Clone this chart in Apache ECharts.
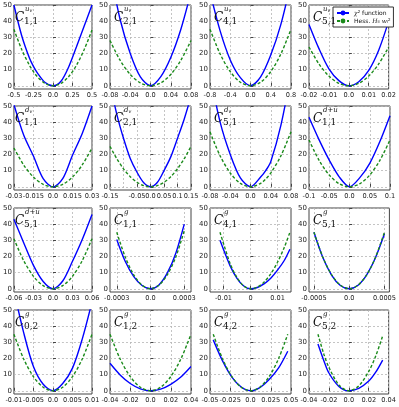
<!DOCTYPE html>
<html><head><meta charset="utf-8">
<script src="https://cdn.jsdelivr.net/npm/echarts@6/dist/echarts.min.js"></script>
<style>html,body{margin:0;padding:0;background:#fff}#c{width:399px;height:407px}</style>
</head><body><div id="c"></div>
<script>
// ---------- data ----------
const yTicks = [0, 10, 20, 30, 40, 50];

const p1_x = [-0.5,-0.4,-0.3,-0.25,-0.2,-0.1,0,0.1,0.2,0.3,0.4,0.5];
const p1_blue = [50,31,17,12,8,2,0,2.6,11.5,24,37,50];
const p1_green = [35,22.4,12.6,8.75,5.6,1.4,0,1.4,5.6,12.6,22.4,34.5];
const p1_ticks = [-0.5,-0.25,0,0.25,0.5];
const p1_labels = ['-0.5','-0.25','0.0','0.25','0.5'];

const p2_x = [-0.08,-0.06,-0.04,-0.02,0,0.02,0.04,0.06,0.08];
const p2_blue = [72,41,20,5.5,0,5.5,17.5,35,58];
const p2_green = [28,15.8,7,1.75,0,1.75,7,15.8,28];
const p2_ticks = [-0.08,-0.04,0,0.04,0.08];
const p2_labels = ['-0.08','-0.04','0.0','0.04','0.08'];

const p3_x = [-0.8,-0.6,-0.4,-0.2,0,0.2,0.4,0.6,0.8];
const p3_blue = [58,34,16,5,0,5.5,19,38,64];
const p3_green = [35,19.7,8.75,2.2,0,2.2,8.75,19.7,35];
const p3_ticks = [-0.8,-0.4,0,0.4,0.8];
const p3_labels = ['-0.8','-0.4','0.0','0.4','0.8'];

const p4_x = [-0.02,-0.015,-0.01,-0.005,0,0.005,0.01,0.015,0.02];
const p4_blue = [38,23,10.5,3.2,0,2.5,9.5,22,40];
const p4_green = [24,13.5,6,1.5,0,1.5,6,13.5,24];
const p4_ticks = [-0.02,-0.01,0,0.01,0.02];
const p4_labels = ['-0.02','-0.01','0.0','0.01','0.02'];

const p5_x = [-0.03,-0.0225,-0.015,-0.0075,0,0.0075,0.015,0.0225,0.03];
const p5_blue = [51,32,19,5,0,5,19.5,33,50];
const p5_green = [24,13.5,6,1.5,0,1.5,6,13.5,24];
const p5_ticks = [-0.03,-0.015,0,0.015,0.03];
const p5_labels = ['-0.03','-0.015','0.0','0.015','0.03'];

const p6_x = [-0.15,-0.125,-0.1,-0.075,-0.05,-0.025,0,0.025,0.05,0.075,0.1,0.125,0.15];
const p6_blue = [64,45,30,17.5,9,2.5,0,2.6,10,18.5,30,42,56];
const p6_green = [25,17.4,11.1,6.25,2.8,0.7,0,0.7,2.8,6.25,11.1,17.4,25];
const p6_ticks = [-0.15,-0.1,-0.05,0,0.05,0.1,0.15];
const p6_labels = ['-0.15','-0.1','-0.05','0.0','0.05','0.1','0.15'];

const p7_x = [-0.08,-0.06,-0.04,-0.02,0,0.02,0.03,0.04,0.06,0.08];
const p7_blue = [70,40,20,5.5,0,6,10,15.5,38,70];
const p7_green = [34,19.1,8.5,2.1,0,2.1,4.8,8.5,19.1,34];
const p7_ticks = [-0.08,-0.04,0,0.04,0.08];
const p7_labels = ['-0.08','-0.04','0.0','0.04','0.08'];

const p8_x = [-0.1,-0.075,-0.05,-0.025,0,0.025,0.05,0.075,0.1];
const p8_blue = [43,29,16.5,6,0,5.5,14.5,28,44];
const p8_green = [29,16.3,7.25,1.8,0,1.8,7.25,16.3,29];
const p8_ticks = [-0.1,-0.05,0,0.05,0.1];
const p8_labels = ['-0.1','-0.05','0.0','0.05','0.1'];

const p9_x = [-0.06,-0.045,-0.03,-0.015,0,0.015,0.03,0.045,0.06];
const p9_blue = [43,28.5,14.5,4.5,0,4.8,17,30.5,46];
const p9_green = [31,17.4,7.75,1.9,0,1.9,7.75,17.4,31];
const p9_ticks = [-0.06,-0.03,0,0.03,0.06];
const p9_labels = ['-0.06','-0.03','0.0','0.03','0.06'];

const p10_x = [-0.0003,-0.000225,-0.00015,-0.000075,0,0.000075,0.00015,0.000225,0.0003];
const p10_blue = [30.5,17,7.7,2,0,2.4,9.8,22,40];
const p10_green = [35,19.7,8.75,2.2,0,2.2,8.75,19.7,36];
const p10_ticks = [-0.0003,0,0.0003];
const p10_labels = ['-0.0003','0.0','0.0003'];

const p11_x = [-0.0113,-0.0075,-0.005,-0.0025,0,0.0025,0.005,0.0075,0.01,0.0125,0.0146];
const p11_blue = [30,14,6.5,1.7,0,0.8,3,6.5,11.5,17.5,24.5];
const p11_green = [35,15.4,6.9,1.7,0,1,4.1,9.2,16.4,25.6,35];
const p11_ticks = [-0.01,0,0.01];
const p11_labels = ['-0.01','0','0.01'];

const p12_x = [-0.0005,-0.000375,-0.00025,-0.000125,0,0.000125,0.00025,0.000375,0.0005];
const p12_blue = [35,19.5,8.5,2,0,2.2,8.8,19.5,34];
const p12_green = [35,19.7,8.75,2.2,0,2.2,8.75,19.7,35];
const p12_ticks = [-0.0005,0,0.0005];
const p12_labels = ['-0.0005','0.0','0.0005'];

const p13_x = [-0.01,-0.0075,-0.005,-0.0025,0,0.0025,0.005,0.0075,0.01];
const p13_blue = [62,36,15,4,0,4.5,14,32,55];
const p13_green = [35,19.7,8.75,2.2,0,2.2,8.75,19.7,35];
const p13_ticks = [-0.01,-0.005,0,0.005,0.01];
const p13_labels = ['-0.01','-0.005','0.0','0.005','0.01'];

const p14_x = [-0.04,-0.03,-0.02,-0.01,0,0.01,0.02,0.03,0.04];
const p14_blue = [17,9.8,4.5,1.2,0,1,4,8.5,15];
const p14_green = [35,19.7,8.75,2.2,0,2.2,8.75,19.7,35];
const p14_ticks = [-0.04,-0.02,0,0.02,0.04];
const p14_labels = ['-0.04','-0.02','0.0','0.02','0.04'];

const p15_x = [-0.046,-0.0345,-0.023,-0.0115,0,0.0115,0.023,0.0345,0.046];
const p15_blue = [31.5,18.5,8.5,2.3,0,2,7,14,24.5];
const p15_green = [35,19.7,8.75,2.2,0,2.2,8.75,19.7,35];
const p15_ticks = [-0.05,-0.025,0,0.025,0.05];
const p15_labels = ['-0.05','-0.025','0.0','0.025','0.05'];

const p16_x = [-0.031,-0.025,-0.02,-0.01,0,0.01,0.02,0.027,0.034];
const p16_blue = [29,18.5,11,2.7,0,1.5,6,11.5,19];
const p16_green = [35,22.5,14.5,3.6,0,3,12,21.5,34];
const p16_ticks = [-0.04,-0.02,0,0.02,0.04];
const p16_labels = ['-0.04','-0.02','0.0','0.02','0.04'];

// panel label pieces: superscript, subscript
const panelSup = ['u_v','u_v','u_v','u_v','d_v','d_v','d_v','dbu','dbu','g','g','g','g','g','g','g'];
const panelSub = ['1,1','2,1','4,1','5,1','1,1','2,1','5,1','1,1','5,1','1,1','4,1','5,1','0,2','1,2','4,2','5,2'];

// ---------- layout / assembling ----------
const panels = [
  [p1_x,p1_blue,p1_green,p1_ticks,p1_labels,[-0.5,0.5]],
  [p2_x,p2_blue,p2_green,p2_ticks,p2_labels,[-0.08,0.08]],
  [p3_x,p3_blue,p3_green,p3_ticks,p3_labels,[-0.8,0.8]],
  [p4_x,p4_blue,p4_green,p4_ticks,p4_labels,[-0.02,0.02]],
  [p5_x,p5_blue,p5_green,p5_ticks,p5_labels,[-0.03,0.03]],
  [p6_x,p6_blue,p6_green,p6_ticks,p6_labels,[-0.15,0.15]],
  [p7_x,p7_blue,p7_green,p7_ticks,p7_labels,[-0.08,0.08]],
  [p8_x,p8_blue,p8_green,p8_ticks,p8_labels,[-0.1,0.1]],
  [p9_x,p9_blue,p9_green,p9_ticks,p9_labels,[-0.06,0.06]],
  [p10_x,p10_blue,p10_green,p10_ticks,p10_labels,[-0.00036,0.00036]],
  [p11_x,p11_blue,p11_green,p11_ticks,p11_labels,[-0.015,0.015]],
  [p12_x,p12_blue,p12_green,p12_ticks,p12_labels,[-0.00057,0.00057]],
  [p13_x,p13_blue,p13_green,p13_ticks,p13_labels,[-0.01,0.01]],
  [p14_x,p14_blue,p14_green,p14_ticks,p14_labels,[-0.04,0.04]],
  [p15_x,p15_blue,p15_green,p15_ticks,p15_labels,[-0.05,0.05]],
  [p16_x,p16_blue,p16_green,p16_ticks,p16_labels,[-0.04,0.04]]
];
const colLeft = [11, 110, 210, 309];
const rowTop = [5, 106, 208, 310];
const W = 81, H = 84;

const grids=[], xAxes=[], yAxes=[], series=[], graphics=[];
const BLUE = '#0000ff', GREEN = '#1a8a1a';
panels.forEach((p, i) => {
  const [xs, bl, gr, ticks, labels, range] = p;
  const L = colLeft[i % 4], T = rowTop[Math.floor(i / 4)];
  grids.push({left: L, top: T, width: W, height: H, show: true, borderColor: '#444', borderWidth: 1, backgroundColor: 'transparent', containLabel: false});
  xAxes.push({
    gridIndex: i, type: 'value', min: range[0], max: range[1],
    axisLine: {show: false},
    axisTick: {show: true, inside: true, length: 3, customValues: ticks, lineStyle: {color: '#444'}},
    axisLabel: {customValues: ticks, fontSize: 6.6, margin: 3, color: '#222', fontFamily: 'DejaVu Sans',
      showMinLabel: true, showMaxLabel: true, hideOverlap: false, interval: 0,
      formatter: v => { let k = ticks.findIndex(t => Math.abs(t - v) < 1e-12); return k >= 0 ? labels[k] : ''; }},
    splitLine: {show: true, lineStyle: {type: [2, 2], color: '#b5b5b5', width: 0.8}}
  });
  yAxes.push({
    gridIndex: i, type: 'value', min: -2, max: 50,
    axisLine: {show: false},
    axisTick: {show: true, inside: true, length: 3, customValues: yTicks, lineStyle: {color: '#444'}},
    axisLabel: {customValues: yTicks, fontSize: 7, margin: 2, color: '#222', fontFamily: 'DejaVu Sans', showMinLabel: true, showMaxLabel: true},
    splitLine: {show: true, lineStyle: {type: [2, 2], color: '#b5b5b5', width: 0.8}}
  });
  series.push({
    name: 'chi', type: 'line', xAxisIndex: i, yAxisIndex: i, symbol: 'none', smooth: 0.3, clip: true,
    data: xs.map((x, k) => [x, bl[k]]), lineStyle: {color: BLUE, width: 1.4}, itemStyle: {color: BLUE}, z: 3, silent: true
  });
  series.push({
    name: 'hess', type: 'line', xAxisIndex: i, yAxisIndex: i, symbol: 'none', smooth: 0.3, clip: true,
    data: xs.map((x, k) => [x, gr[k]]), lineStyle: {color: GREEN, width: 1.4, type: [3, 2]}, itemStyle: {color: GREEN}, z: 4, silent: true
  });
  // panel label C^{sup}_{sub}
  graphics.push({type: 'text', left: L + 4, top: T + 7, z: 10,
    style: {text: 'C', font: 'italic 12px "DejaVu Serif"', fill: '#111'}});
  let sup = panelSup[i];
  let supText;
  if (sup === 'u_v') supText = '{m|u}{s|v}';
  else if (sup === 'd_v') supText = '{m|d}{s|v}';
  else if (sup === 'dbu') supText = '{m|d\u0305+u\u0305}';
  else supText = '{m|g}';
  graphics.push({type: 'text', left: L + 14, top: T + 1, z: 10,
    style: {text: supText, rich: {
      m: {font: 'italic 7px "DejaVu Serif"', fill: '#111'},
      s: {font: 'italic 5px "DejaVu Serif"', fill: '#111', verticalAlign: 'bottom', padding: [3, 0, 0, 0]}
    }}});
  graphics.push({type: 'text', left: L + 13, top: T + 12, z: 10,
    style: {text: panelSub[i], font: '9px "DejaVu Serif"', fill: '#111'}});
});

const chart = echarts.init(document.getElementById('c'), null, {renderer: 'canvas'});
chart.setOption({
  animation: false,
  backgroundColor: '#fff',
  grid: grids, xAxis: xAxes, yAxis: yAxes, series: series, graphic: graphics,
  legend: {
    data: ['chi', 'hess'], orient: 'vertical', left: 333, top: 7,
    itemWidth: 12, itemHeight: 6, itemGap: 2, padding: [3, 3, 3, 3],
    borderColor: '#333', borderWidth: 1, backgroundColor: '#fff', borderRadius: 0,
    textStyle: {fontSize: 6, color: '#111', fontFamily: 'DejaVu Sans',
      rich: {t: {fontSize: 6, fontFamily: 'DejaVu Sans'}, i: {fontSize: 6, fontStyle: 'italic', fontFamily: 'DejaVu Serif'},
             s: {fontSize: 4, verticalAlign: 'bottom', fontFamily: 'DejaVu Sans'}, u: {fontSize: 4, verticalAlign: 'top', fontFamily: 'DejaVu Sans'}}},
    formatter: n => n === 'chi' ? '{i|χ}{u|2}{t| function}' : '{t|Hess. }{i|H}{s|ii}{t| }{i|w}{s|i}{u|2}'
  }
});
</script></body></html>
